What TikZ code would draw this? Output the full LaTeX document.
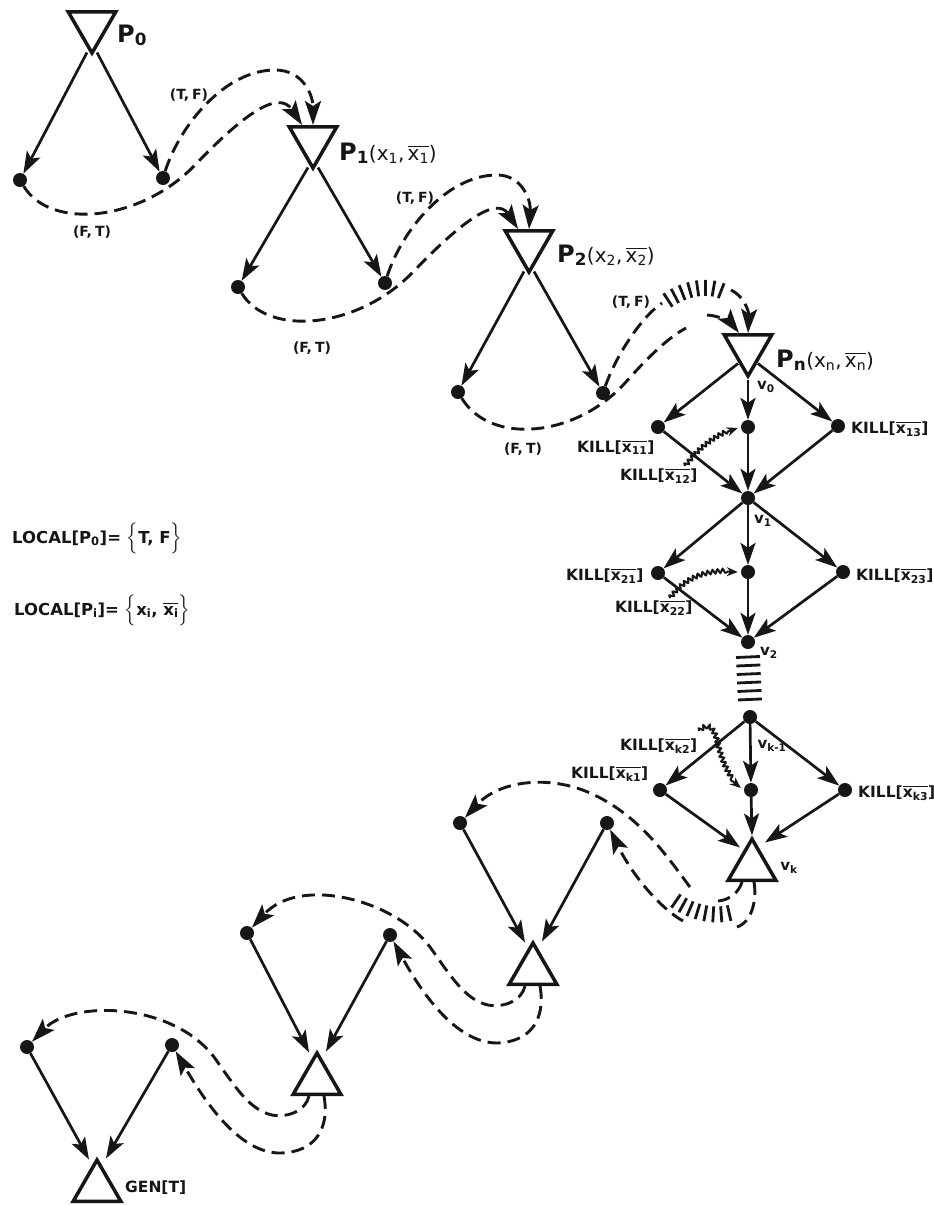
\documentclass[tikz,border=0pt]{standalone}
\usepackage{amsmath}
\usepackage{fontspec}
\setsansfont{DejaVu Sans}
\usetikzlibrary{arrows.meta,shapes.geometric,calc,decorations.pathmorphing,decorations.pathreplacing}
\definecolor{ink}{HTML}{161616}
\newcommand\xb[1]{$\overline{\text{x}_{\text{#1}}}$}
\newcommand\parfont{\mdseries\fontsize{20}{20}\selectfont}
\begin{document}
\begin{tikzpicture}[x=1pt,y=-1pt, color=ink, text=ink,
 tri/.style={regular polygon, regular polygon sides=3, draw=ink, line width=3.5pt, minimum size=55pt, inner sep=0pt},
 tridown/.style={tri, shape border rotate=180},
 leaf/.style={circle, fill=ink, inner sep=0pt, minimum size=14pt},
 edge/.style={line width=2.7pt, -{Stealth[length=22pt,width=15pt,inset=5pt]}},
 darc/.style={line width=2.9pt, dash pattern=on 13pt off 7pt},
 darcarrow/.style={darc, -{Stealth[length=24pt,width=16pt,inset=5pt]}},
 hatch/.style={line width=2.8pt, decorate, decoration={ticks, segment length=8pt, amplitude=8pt}},
 ladder/.style={line width=2.8pt, decorate, decoration={ticks, segment length=8.5pt, amplitude=12pt}},
 wavy/.style={line width=2pt, decorate, decoration={snake, amplitude=2pt, segment length=5pt, post length=10pt}, -{Stealth[length=11pt,width=9pt]}},
 lbl/.style={font=\sffamily\bfseries\fontsize{15.5}{15.5}\selectfont, inner sep=0pt},
 tflbl/.style={font=\sffamily\bfseries\fontsize{14}{14}\selectfont, inner sep=0pt},
 vlbl/.style={font=\sffamily\bfseries\fontsize{15}{15}\selectfont, inner sep=0pt},
 plbl/.style={font=\sffamily\bfseries\fontsize{24}{24}\selectfont, inner sep=0pt, anchor=base west}
]
\useasboundingbox (0,0) rectangle (934,1205);
\fill[white] (0,0) rectangle (934,1205);

% triangles
\node[tridown] (P0) at (92,25.5) {};
\node[tridown] (P1) at (313,140.5) {};
\node[tridown] (P2) at (529,244.5) {};
\node[tridown] (Pn) at (748,348.5) {};
\node[tri] (vk) at (752,866.5) {};
\node[tri] (T1) at (533,970.5) {};
\node[tri] (T2) at (317,1080.5) {};
\node[tri] (G) at (97,1187.5) {};

% leaves
\node[leaf] (P0L) at (20,180) {};
\node[leaf] (P0R) at (163,178) {};
\node[leaf] (P1L) at (238,287) {};
\node[leaf] (P1R) at (385,283) {};
\node[leaf] (P2L) at (458,392) {};
\node[leaf] (P2R) at (603,393) {};
\node[leaf] (a1) at (658,427) {};
\node[leaf] (a2) at (748,427) {};
\node[leaf] (a3) at (838,426) {};
\node[leaf] (v1) at (748,498) {};
\node[leaf] (b1) at (658,573) {};
\node[leaf] (b2) at (748,572) {};
\node[leaf] (b3) at (843,572) {};
\node[leaf] (v2) at (748,642) {};
\node[leaf] (vkm) at (750,717) {};
\node[leaf] (c1) at (660,790) {};
\node[leaf] (c2) at (751,790) {};
\node[leaf] (c3) at (845,790) {};
\node[leaf] (T1L) at (460,823) {};
\node[leaf] (T1R) at (607,823) {};
\node[leaf] (T2L) at (247,933) {};
\node[leaf] (T2R) at (390,935) {};
\node[leaf] (GL) at (27,1047) {};
\node[leaf] (GR) at (172,1045) {};

% solid edges, top part
\draw[edge] ($(P0.south)+(-5,-4)$) -- (P0L);
\draw[edge] ($(P0.south)+(5,-4)$) -- (P0R);
\draw[edge] ($(P1.south)+(-5,-4)$) -- (P1L);
\draw[edge] ($(P1.south)+(5,-4)$) -- (P1R);
\draw[edge] ($(P2.south)+(-5,-4)$) -- (P2L);
\draw[edge] ($(P2.south)+(5,-4)$) -- (P2R);
\draw[edge] ($(Pn.south)+(-10,-16)$) -- (a1);
\draw[edge] (Pn.south) -- (a2);
\draw[edge] ($(Pn.south)+(10,-16)$) -- (a3);
\draw[edge] (a1) -- (v1);
\draw[edge] (a2) -- (v1);
\draw[edge] (a3) -- (v1);
\draw[edge] (v1) -- (b1);
\draw[edge] (v1) -- (b2);
\draw[edge] (v1) -- (b3);
\draw[edge] (b1) -- (v2);
\draw[edge] (b2) -- (v2);
\draw[edge] (b3) -- (v2);
\draw[edge] (vkm) -- (c1);
\draw[edge] (vkm) -- (c2);
\draw[edge] (vkm) -- (c3);
\draw[edge] (c1) -- ($(vk.north)+(-12,12)$);
\draw[edge] (c2) -- (vk.north);
\draw[edge] (c3) -- ($(vk.north)+(13,7)$);
% solid edges, bottom part
\draw[edge] (T1L) -- ($(T1.north)+(-8,3)$);
\draw[edge] (T1R) -- ($(T1.north)+(9,2)$);
\draw[edge] (T2L) -- ($(T2.north)+(-8,3)$);
\draw[edge] (T2R) -- ($(T2.north)+(9,2)$);
\draw[edge] (GL) -- ($(G.north)+(-8,3)$);
\draw[edge] (GR) -- ($(G.north)+(9,2)$);

% ladder between v2 and v_{k-1}
\draw[ladder] ($(v2)+(0,15)$) -- ($(vkm)+(0,-14)$);

% dashed curves, top
\draw[darcarrow] (P0R) .. controls (180,125) and (225,70) .. (275,70) .. controls (303,70) and (313,95) .. (P1.north);
\draw[darcarrow] (P0L) .. controls (50,230) and (140,222) .. (195,165) .. controls (240,118) and (278,88) .. ($(P1.north)+(-11,0)$);
\draw[darcarrow] (P1R) .. controls (402,230) and (447,175) .. (497,175) .. controls (522,175) and (531,200) .. (P2.north);
\draw[darcarrow] (P1L) .. controls (268,337) and (358,329) .. (413,272) .. controls (458,225) and (496,195) .. ($(P2.north)+(-11,0)$);

\coordinate (h1) at (662,303);
\coordinate (hs) at (668,300);
\coordinate (he) at (726,293);
\coordinate (h2) at (731,290);
\draw[darc] (P2R) .. controls (615,358) and (640,318) .. (h1);
\draw[hatch] (hs) .. controls (688,287) and (710,284) .. (he);
\draw[darcarrow] (h2) .. controls (744,296) and (749,312) .. (Pn.north);
\coordinate (g1) at (686,328);
\coordinate (g2) at (707,315);
\draw[darc] (P2L) .. controls (490,445) and (575,438) .. (625,383) .. controls (650,355) and (668,338) .. (g1);
\draw[darcarrow] (g2) .. controls (722,316) and (732,324) .. ($(Pn.north)+(-9,0)$);

% dashed curves, bottom
\coordinate (vkA) at ($(vk.south)+(-10,0)$);
\coordinate (vkB) at ($(vk.south)+(2,0)$);
\coordinate (kA1) at (718,901);
\coordinate (kA2) at (690,887);
\coordinate (kB1) at (737,927);
\coordinate (kB2) at (683,921);
\coordinate (ks) at (676,901);
\coordinate (ke) at (736,911);
\draw[darc] (vkA) .. controls (739,892) and (730,900) .. (kA1);
\draw[darcarrow] (kA2) .. controls (668,858) and (640,815) .. (590,793) .. controls (550,775) and (500,780) .. (T1L);
\draw[darc] (vkB) .. controls (757,900) and (752,922) .. (kB1);
\draw[hatch] (ks) .. controls (695,914) and (718,918) .. (ke);
\draw[darcarrow] (kB2) .. controls (660,908) and (632,875) .. (T1R);

\draw[darcarrow] ($(T1.south)+(-8,0)$) .. controls (522,1000) and (505,1008) .. (488,1005) .. controls (465,1000) and (450,975) .. (430,947) .. controls (395,900) and (300,875) .. (T2L);
\draw[darcarrow] ($(T1.south)+(7,0)$) .. controls (546,1020) and (530,1042) .. (497,1043) .. controls (455,1043) and (420,990) .. (T2R);
\draw[darcarrow] ($(T2.south)+(-8,0)$) .. controls (306,1110) and (289,1118) .. (272,1115) .. controls (249,1110) and (234,1085) .. (214,1057) .. controls (172,1002) and (72,1000) .. (GL);
\draw[darcarrow] ($(T2.south)+(7,0)$) .. controls (330,1130) and (314,1152) .. (281,1153) .. controls (239,1154) and (204,1100) .. (GR);

% wavy arrows
\coordinate (w1) at (685,466);
\coordinate (w2) at (670,598);
\coordinate (w3) at (699,731);
\draw[wavy] (w1) .. controls (700,447) and (715,435) .. ($(a2.west)+(-3,1)$);
\draw[wavy] (w2) .. controls (685,578) and (705,570) .. ($(b2.west)+(-3,0)$);
\draw[wavy] (w3) .. controls (708,722) and (714,730) .. (717,745) .. controls (722,765) and (730,782) .. ($(c2.west)+(-3,-2)$);

% labels
\node[plbl] (lP0) at (117,42) {P$_{\text{0}}$};
\node[plbl] (lP1) at (339,160) {P$_{\text{1}}${\parfont(x$_{\text{1}}$,\,$\overline{\text{x}_{\text{1}}}$)}};
\node[plbl] (lP2) at (557,262) {P$_{\text{2}}${\parfont(x$_{\text{2}}$,\,$\overline{\text{x}_{\text{2}}}$)}};
\node[plbl] (lPn) at (776,367) {P$_{\text{n}}${\parfont(x$_{\text{n}}$,\,$\overline{\text{x}_{\text{n}}}$)}};

\node[tflbl] (tf1) at (189,95) {(T,\kern3pt F)};
\node[tflbl] (tf2) at (415,198) {(T,\kern3pt F)};
\node[tflbl] (tf3) at (631,302) {(T,\kern3pt F)};
\node[tflbl] (ft1) at (92,232) {(F,\kern3pt T)};
\node[tflbl] (ft2) at (312,348) {(F,\kern3pt T)};
\node[tflbl] (ft3) at (523,449) {(F,\kern3pt T)};

\node[vlbl] (lv0) at (766,387) {v$_{\text{0}}$};
\node[vlbl] (lv1) at (763,521) {v$_{\text{1}}$};
\node[vlbl] (lv2) at (769,653) {v$_{\text{2}}$};
\node[vlbl] (lvkm) at (772,746) {v$_{\text{k-1}}$};
\node[vlbl] (lvk) at (789,868) {v$_{\text{k}}$};

\node[lbl, anchor=base west] (k11) at (577,452) {KILL[\xb{11}]};
\node[lbl, anchor=base west] (k12) at (620,480) {KILL[\xb{12}]};
\node[lbl, anchor=base west] (k13) at (851,433) {KILL[\xb{13}]};
\node[lbl, anchor=base west] (k21) at (566,580) {KILL[\xb{21}]};
\node[lbl, anchor=base west] (k22) at (615,612) {KILL[\xb{22}]};
\node[lbl, anchor=base west] (k23) at (856,580) {KILL[\xb{23}]};
\node[lbl, anchor=base west] (kk2) at (620,750) {KILL[\xb{k2}]};
\node[lbl, anchor=base west] (kk1) at (571,778) {KILL[\xb{k1}]};
\node[lbl, anchor=base west] (kk3) at (858,797) {KILL[\xb{k3}]};

\node[lbl, anchor=base west, font=\sffamily\bfseries\fontsize{16.5}{16.5}\selectfont] (loc0) at (12,543) {LOCAL[P$_{\text{0}}$]= $\Bigl\{$T, F$\Bigr\}$};
\node[lbl, anchor=base west, font=\sffamily\bfseries\fontsize{16.5}{16.5}\selectfont] (loci) at (14,615) {LOCAL[P$_{\text{i}}$]= $\Bigl\{$x$_{\text{i}}$, $\overline{\text{x}_{\text{i}}}$$\Bigr\}$};
\node[lbl, anchor=base west] (gen) at (125,1192) {GEN[T]};
\end{tikzpicture}
\end{document}
